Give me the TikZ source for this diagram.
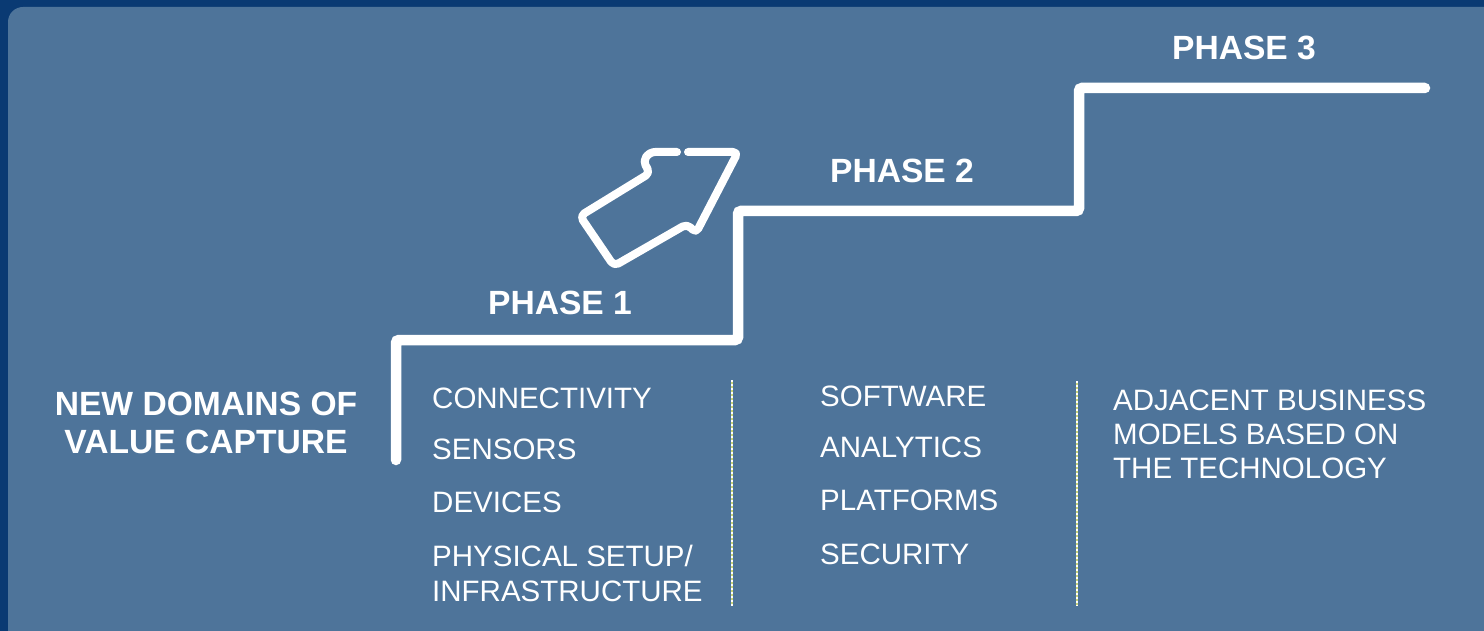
\documentclass[tikz,border=0pt]{standalone}
\usepackage{fontspec}
\setmainfont{Liberation Sans}
\definecolor{outerblue}{RGB}{10,58,115}
\definecolor{innerblue}{RGB}{78,116,154}
\definecolor{dotyellow}{RGB}{200,210,120}
\begin{document}
\begin{tikzpicture}[x=1pt,y=-1pt,
  phase/.style={text=white,inner sep=0,anchor=base,font=\fontsize{33.6}{38}\selectfont\bfseries},
  item/.style={text=white,inner sep=0,anchor=base west,font=\fontsize{29.5}{34}\selectfont},
  stair/.style={white,line width=10.5pt,line cap=round,rounded corners=3pt},
  arrowline/.style={white,line width=8pt,line cap=round,line join=round,rounded corners=5pt},
  sepbase/.style={dotyellow,line width=2pt},
  sepdots/.style={white,line width=2pt,dash pattern=on 2pt off 2pt}]
\useasboundingbox (0,0) rectangle (1484,631);
\fill[outerblue] (0,0) rectangle (1484,631);
\begin{scope}
\clip (0,0) rectangle (1484,631);
\fill[innerblue,rounded corners=15pt] (8,7) rectangle (1510,660);
\end{scope}
% separators
\coordinate (s1t) at (732,380); \coordinate (s1b) at (732,606);
\coordinate (s2t) at (1077,381); \coordinate (s2b) at (1077,606);
\draw[sepbase] (s1t) -- (s1b); \draw[sepdots] (s1t) -- (s1b);
\draw[sepbase] (s2t) -- (s2b); \draw[sepdots] (s2t) -- (s2b);
% staircase
\draw[stair] (396,460) -- (396,340) -- (738,340) -- (738,211) -- (1079,211) -- (1079,88) -- (1425,88);
% arrow
\draw[arrowline] (688,152) -- (738,152) -- (696,233) -- (687,224) -- (614,266) -- (580,216) -- (650,173) -- (643,161) -- (650,152) -- (677,152);
% labels
\node[phase] (p1) at (560,314) {PHASE 1};
\node[phase] (p2) at (902,183) {PHASE 2};
\node[phase] (p3) at (1244,60) {PHASE 3};
\node[phase] (nd1) at (206,415) {NEW DOMAINS OF};
\node[phase] (nd2) at (206,453) {VALUE CAPTURE};
\node[item] (a1) at (432,408.5) {CONNECTIVITY};
\node[item] (a2) at (432,459.5) {SENSORS};
\node[item] (a3) at (432,512.5) {DEVICES};
\node[item] (a4) at (432,566.5) {PHYSICAL SETUP/};
\node[item] (a5) at (432,601.5) {INFRASTRUCTURE};
\node[item] (b1) at (820,406.5) {SOFTWARE};
\node[item] (b2) at (820,457.5) {ANALYTICS};
\node[item] (b3) at (820,510.5) {PLATFORMS};
\node[item] (b4) at (820,564.5) {SECURITY};
\node[item] (c1) at (1113,410.5) {ADJACENT BUSINESS};
\node[item] (c2) at (1113,444.5) {MODELS BASED ON};
\node[item] (c3) at (1113,478.5) {THE TECHNOLOGY};
\end{tikzpicture}
\end{document}
